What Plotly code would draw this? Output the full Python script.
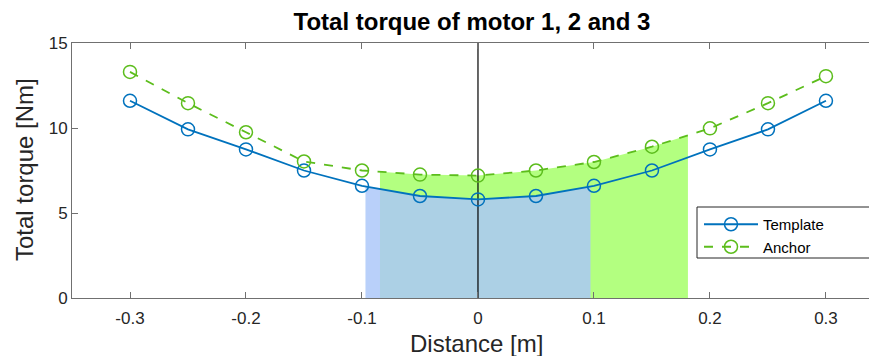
import numpy as np
import plotly.graph_objects as go

distance = [-0.3, -0.25, -0.2, -0.15, -0.1, -0.05, 0.0, 0.05, 0.1, 0.15, 0.2, 0.25, 0.3]
template = [11.6, 9.92, 8.74, 7.5, 6.6, 6.0, 5.8, 6.0, 6.6, 7.5, 8.74, 9.92, 11.6]
anchor = [13.3, 11.46, 9.75, 8.03, 7.5, 7.26, 7.2, 7.5, 8.0, 8.9, 9.98, 11.46, 13.05]
blue_band = [-0.097, 0.097]
green_band = [-0.0845, 0.181]
x_ticks = [-0.3, -0.2, -0.1, 0, 0.1, 0.2, 0.3]
x_tick_labels = ["-0.3", "-0.2", "-0.1", "0", "0.1", "0.2", "0.3"]
y_ticks = [0, 5, 10, 15]

BLUE = "#0072BD"
GREEN = "#5cbd1c"
FONT = "Liberation Sans, Arial, sans-serif"

# page has an 8px body margin; figure placed at (8, 8)
OFF = 8
W, H = 877 - OFF, 356 - OFF
L, R, T, B = 72 - OFF, 0, 43 - OFF, 356 - 298


def band(xs, ys, lo, hi):
    inner = [(x, y) for x, y in zip(xs, ys) if lo < x < hi]
    bx = [lo] + [p[0] for p in inner] + [hi]
    by = [float(np.interp(lo, xs, ys))] + [p[1] for p in inner] + [float(np.interp(hi, xs, ys))]
    return bx, by


def px(xp):  # screen x -> paper
    return (xp - OFF - L) / (W - L - R)


def py(yp):  # screen y -> paper
    return (H - B - (yp - OFF)) / (H - T - B)


fig = go.Figure()

gx, gy = band(distance, anchor, *green_band)
fig.add_trace(go.Scatter(x=gx, y=gy, mode="lines", line=dict(width=0),
                         fill="tozeroy", fillcolor="rgb(179,255,128)",
                         showlegend=False, hoverinfo="skip"))
bx, by = band(distance, template, *blue_band)
fig.add_trace(go.Scatter(x=bx, y=by, mode="lines", line=dict(width=0),
                         fill="tozeroy", fillcolor="rgba(171,198,249,0.83)",
                         showlegend=False, hoverinfo="skip"))
fig.add_trace(go.Scatter(x=[0, 0], y=[0, 15], mode="lines",
                         line=dict(color="black", width=1.2),
                         showlegend=False, hoverinfo="skip"))

fig.add_trace(go.Scatter(x=distance, y=template, mode="lines+markers", name="Template",
                         line=dict(color=BLUE, width=1.8),
                         marker=dict(symbol="circle-open", size=13, color=BLUE,
                                     line=dict(width=1.5, color=BLUE))))
fig.add_trace(go.Scatter(x=distance, y=anchor, mode="lines+markers", name="Anchor",
                         line=dict(color=GREEN, width=1.8, dash="dash"),
                         marker=dict(symbol="circle-open", size=13, color=GREEN,
                                     line=dict(width=1.5, color=GREEN))))

# legend box (MATLAB-style)
fig.add_shape(type="rect", xref="paper", yref="paper",
              x0=px(697), x1=px(874), y0=py(258), y1=py(207),
              line=dict(color="#262626", width=1), fillcolor="white", layer="above")

fig.update_layout(
    width=W, height=H,
    margin=dict(l=L, r=R, t=T, b=B, autoexpand=False),
    paper_bgcolor="white", plot_bgcolor="white",
    font=dict(family=FONT, color="#262626"),
    title=dict(text="<b>Total torque of motor 1, 2 and 3</b>",
               x=px(472), xref="paper", xanchor="center",
               y=1 - (22 - OFF) / H, yref="container", yanchor="middle",
               font=dict(size=24, color="black", family=FONT)),
    showlegend=True,
    legend=dict(x=px(699), y=py(208), xanchor="left", yanchor="top",
                bgcolor="rgba(0,0,0,0)", borderwidth=0,
                font=dict(size=15, color="black", family=FONT),
                tracegroupgap=0, itemwidth=54),
    annotations=[
        dict(text="Distance [m]", x=px(477), y=py(343), xref="paper", yref="paper",
             xanchor="center", yanchor="middle", showarrow=False,
             font=dict(size=24, color="#262626", family=FONT)),
        dict(text="Total torque [Nm]", x=px(24), y=py(170), xref="paper", yref="paper",
             xanchor="center", yanchor="middle", showarrow=False, textangle=-90,
             font=dict(size=24, color="#262626", family=FONT)),
    ],
)
fig.update_xaxes(range=[-0.35, 0.344], tickvals=x_ticks, ticktext=x_tick_labels,
                 automargin=False, ticklabelstandoff=5,
                 showgrid=False, zeroline=False, showline=True, linecolor="#707070",
                 linewidth=1, mirror="ticks", ticks="inside", ticklen=6,
                 tickcolor="#707070", tickfont=dict(size=17, color="#262626"))
fig.update_yaxes(range=[0, 15], tickvals=y_ticks, showgrid=False, zeroline=False,
                 automargin=False,
                 showline=True, linecolor="#707070", linewidth=1, ticks="inside",
                 ticklen=6, tickcolor="#707070", tickfont=dict(size=17, color="#262626"))

fig.write_html("out.html")
